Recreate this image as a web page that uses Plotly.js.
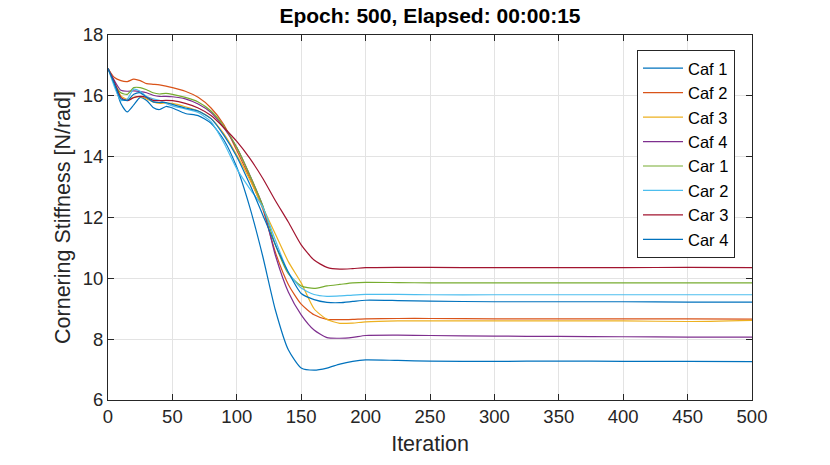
<!DOCTYPE html>
<html>
<head>
<meta charset="utf-8">
<script src="https://cdn.plot.ly/plotly-3.0.1.min.js"></script>
<style>
  html, body { margin: 0; padding: 0; background: #fff; }
  #chart { width: 830px; height: 465px; }
</style>
</head>
<body>
<div id="chart"></div>
<script>
// iteration samples
const iters = [0,5,10,15,20,25,30,35,40,45,50,60,70,80,90,100,110,120,130,140,150,160,170,180,190,200,225,250,300,350,400,450,500];

const caf1 = [16.9,16.4,15.75,15.47,15.7,15.95,15.85,15.62,15.55,15.65,15.6,15.42,15.35,15.1,14.55,13.65,12.35,10.75,8.95,7.65,7.05,6.98,7.05,7.18,7.27,7.32,7.3,7.28,7.27,7.28,7.27,7.27,7.26];
const caf2 = [16.9,16.6,16.5,16.47,16.55,16.5,16.4,16.38,16.36,16.32,16.27,16.15,15.95,15.6,15.05,14.2,13.3,12.3,10.85,9.8,9.15,8.8,8.65,8.64,8.65,8.67,8.68,8.68,8.67,8.67,8.67,8.67,8.66];
const caf3 = [16.9,16.45,16.0,15.88,15.95,15.97,15.9,15.8,15.75,15.76,15.75,15.64,15.5,15.25,14.75,14.05,13.25,12.35,11.45,10.55,9.85,9.0,8.65,8.52,8.53,8.57,8.6,8.6,8.6,8.6,8.6,8.58,8.62];
const caf4 = [16.9,16.5,16.18,16.15,16.16,16.14,16.1,16.02,15.98,15.98,15.97,15.9,15.73,15.45,14.95,14.3,13.4,12.4,10.75,9.55,8.8,8.3,8.05,8.03,8.06,8.12,8.13,8.12,8.1,8.09,8.08,8.07,8.07];
const car1 = [16.9,16.4,16.1,16.05,16.27,16.27,16.2,16.1,16.06,16.08,16.05,15.95,15.8,15.5,15.0,14.3,13.4,12.4,11.1,10.15,9.75,9.67,9.75,9.8,9.85,9.87,9.86,9.85,9.85,9.85,9.85,9.85,9.85];
const car2 = [16.9,16.3,15.85,15.9,16.22,16.15,15.98,15.9,15.85,15.75,15.67,15.57,15.45,15.15,14.45,13.6,12.95,12.35,11.25,10.2,9.68,9.47,9.41,9.42,9.45,9.47,9.47,9.46,9.46,9.46,9.46,9.46,9.46];
const car3 = [16.9,16.45,15.95,15.84,15.94,15.98,15.95,15.85,15.84,15.85,15.84,15.75,15.6,15.35,14.95,14.5,13.95,13.3,12.55,11.85,11.1,10.6,10.36,10.3,10.32,10.35,10.36,10.36,10.35,10.35,10.35,10.36,10.35];
const car4 = [16.9,16.4,15.9,15.85,16.05,16.1,15.95,15.8,15.78,15.78,15.72,15.6,15.5,15.25,14.7,14.0,13.1,12.1,11.1,10.2,9.5,9.3,9.21,9.2,9.24,9.28,9.27,9.25,9.23,9.23,9.23,9.22,9.22];

const names = ['Caf 1','Caf 2','Caf 3','Caf 4','Car 1','Car 2','Car 3','Car 4'];
const series = [caf1, caf2, caf3, caf4, car1, car2, car3, car4];
const colors = ['#0072BD','#D95319','#EDB120','#7E2F8E','#77AC30','#4DBEEE','#A2142F','#0072BD'];

const font = 'Liberation Sans, Arial, Helvetica, sans-serif';
const ink = '#262626';

const traces = series.map((s, i) => ({
    type: 'scatter', mode: 'lines', name: names[i],
    x: iters, y: s,
    line: { color: colors[i], width: 1.2, shape: 'spline', smoothing: 0.6 }
}));

const axisBase = {
    showline: true, linecolor: ink, linewidth: 1, mirror: 'allticks',
    ticks: 'inside', ticklen: 6, tickcolor: ink, tickwidth: 1,
    showgrid: true, gridcolor: '#e3e3e3', gridwidth: 1,
    zeroline: false, tickfont: { family: font, size: 18.5, color: ink }
};

const layout = {
    width: 830, height: 465,
    paper_bgcolor: '#fff', plot_bgcolor: '#fff',
    margin: { l: 108, r: 78, t: 35, b: 65 },
    title: { text: '<b>Epoch: 500, Elapsed: 00:00:15</b>', x: 0.5, xref: 'paper', xanchor: 'center',
             y: 0.966, yanchor: 'middle',
             font: { family: font, size: 21, color: '#000' } },
    xaxis: { ...axisBase, range: [0, 500], dtick: 50,
             title: { text: 'Iteration', font: { family: font, size: 21.5, color: ink }, standoff: 9 } },
    yaxis: { ...axisBase, range: [6, 18], dtick: 2,
             title: { text: 'Cornering Stiffness [N/rad]', font: { family: font, size: 21.5, color: ink }, standoff: 6 } },
    legend: { x: 0.9736, y: 0.959, xanchor: 'right', yanchor: 'top',
              bgcolor: '#fff', bordercolor: ink, borderwidth: 1,
              font: { family: font, size: 16.5, color: '#000' },
              tracegroupgap: 0, itemwidth: 40 },
    showlegend: true
};

Plotly.newPlot('chart', traces, layout, { staticPlot: true });
</script>
</body>
</html>
